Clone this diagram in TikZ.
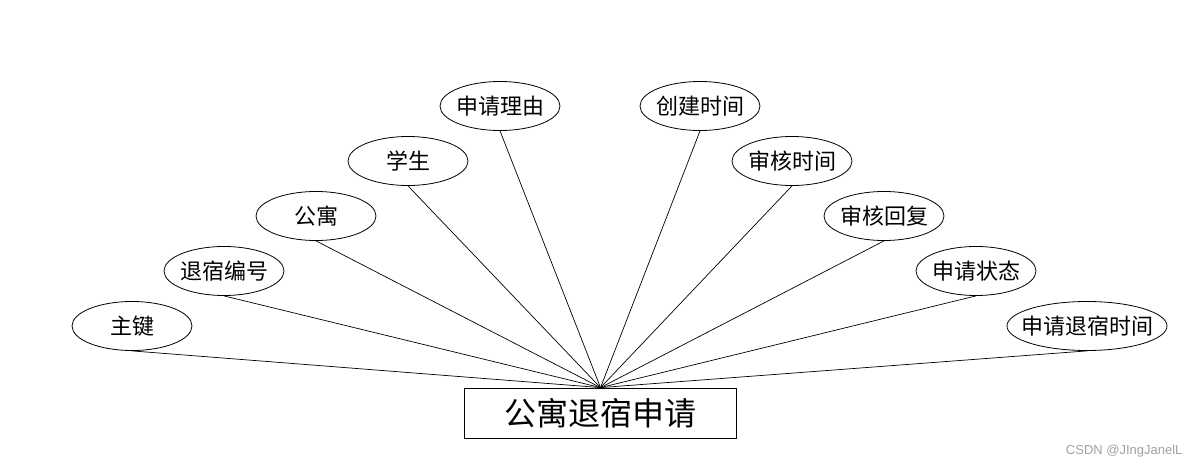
\documentclass[tikz,border=0pt]{standalone}
\usepackage{fontspec}
\setmainfont{Liberation Sans}
\newfontfamily\cjk{Noto Sans CJK SC}
\usetikzlibrary{shapes.geometric,positioning}

\begin{document}
\begin{tikzpicture}[x=1pt,y=-1pt]

	% ============================================================
	% COLORS
	% ============================================================
	\definecolor{ink}{HTML}{000000}
	\definecolor{mark}{HTML}{A0A0A0}

	% ============================================================
	% STYLES
	% ============================================================
	\tikzset{
		attr/.style={
			ellipse,
			draw=ink,
			line width=0.8pt,
			inner ysep=0pt,
			inner xsep=-3pt,
			minimum width=120pt,
			minimum height=49pt,
			font=\cjk\fontsize{22}{24}\selectfont,
			text=ink
		},
		entity/.style={
			rectangle,
			draw=ink,
			line width=0.8pt,
			minimum width=272pt,
			minimum height=50pt,
			font=\cjk\fontsize{32}{36}\selectfont,
			text=ink
		},
		link/.style={draw=ink,line width=0.7pt},
		wm/.style={font=\fontsize{13}{15}\selectfont,text=mark,anchor=east}
	}

	\useasboundingbox (0,0) rectangle (1200,468);

	% ============================================================
	% ENTITY
	% ============================================================
	\node[entity] (req) at (600.5, 413) {公寓退宿申请};

	% ============================================================
	% ATTRIBUTES - LEFT FAN
	% ============================================================
	\node[attr] (pk)     at (132, 326) {主键};
	\node[attr] (num)    at (224, 271) {退宿编号};
	\node[attr] (apt)    at (316, 216) {公寓};
	\node[attr] (stu)    at (408, 161) {学生};
	\node[attr] (reason) at (500, 106) {申请理由};

	% ============================================================
	% ATTRIBUTES - RIGHT FAN
	% ============================================================
	\node[attr] (ctime)  at (700, 106) {创建时间};
	\node[attr] (atime)  at (792, 161) {审核时间};
	\node[attr] (reply)  at (884, 216) {审核回复};
	\node[attr] (state)  at (976, 271) {申请状态};
	\node[attr, inner xsep=-10pt, minimum width=160pt] (qtime) at (1087, 326) {申请退宿时间};

	% ============================================================
	% CONNECTORS
	% ============================================================
	\foreach \a in {pk,num,apt,stu,reason,ctime,atime,reply,state,qtime}
		\draw[link] (req.north) -- (\a.south);

	% ============================================================
	% WATERMARK
	% ============================================================
	\node[wm] (credit) at (1186, 451) {CSDN @JIngJanelL};

\end{tikzpicture}
\end{document}
